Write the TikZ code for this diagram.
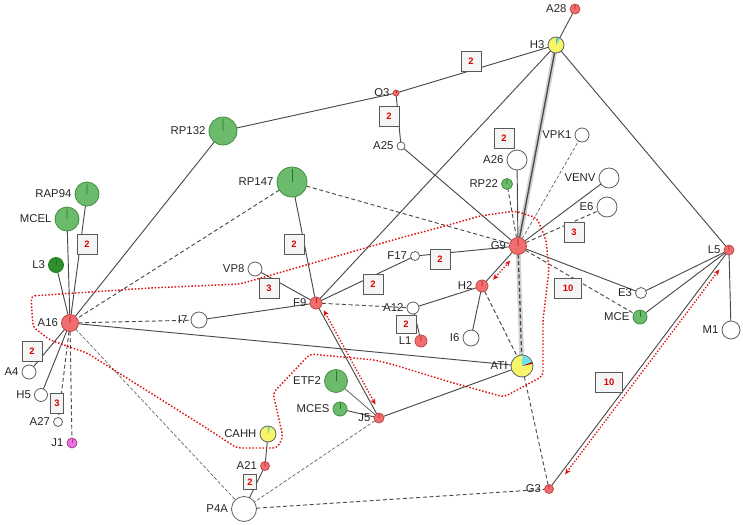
\documentclass[tikz,border=0pt]{standalone}
\usepackage{fontspec}
\setmainfont{Liberation Sans}
\usetikzlibrary{arrows.meta,calc}
\pgfdeclarelayer{back}
\pgfdeclarelayer{bg}
\pgfsetlayers{back,bg,main}
\definecolor{nred}{HTML}{F26D6D}
\definecolor{nredd}{HTML}{C04848}
\definecolor{ntick}{HTML}{A82020}
\definecolor{ngreen}{HTML}{6CBB6C}
\definecolor{ngreend}{HTML}{3F8F3F}
\definecolor{ngtick}{HTML}{1E7A1E}
\definecolor{ndkgreen}{HTML}{2F8F2F}
\definecolor{nyellow}{HTML}{F7F56A}
\definecolor{ncyan}{HTML}{6BE3E8}
\definecolor{nmag}{HTML}{F070F0}
\definecolor{edgec}{HTML}{4A4A4A}
\definecolor{loopred}{HTML}{E01010}
\begin{document}
\begin{tikzpicture}[x=0.75pt,y=-0.75pt,
  base/.style={circle,inner sep=0pt,outer sep=0pt,line width=0.6pt},
  rad/.style={minimum size=#1*1.5pt},
  wh/.style={base,draw=gray!75!black,fill=white},
  rd/.style={base,draw=nredd,fill=nred},
  gr/.style={base,draw=ngreend,fill=ngreen},
  dg/.style={base,draw=ngtick,fill=ndkgreen},
  mg/.style={base,draw=magenta!60!black,fill=nmag},
  ye/.style={base,draw=gray!75!black,fill=nyellow},
  every label/.style={font=\fontsize{8.5}{10}\selectfont,text=black!85,inner sep=0pt},
  label distance=2.5pt,
  sl/.style={draw=edgec,line width=0.7pt},
  dl/.style={draw=edgec,line width=0.7pt,dash pattern=on 3pt off 2pt},
  fdl/.style={draw=edgec!90,line width=0.5pt,dash pattern=on 2.5pt off 1.5pt},
  halo/.style={draw=gray!35,line width=3.6pt},
  nbox/.style={draw=gray!70!black,fill=gray!8,line width=0.5pt,minimum width=15pt,minimum height=15pt,inner sep=0pt,font=\bfseries\fontsize{7}{8}\selectfont,text=red!85!black},
  rtick/.style={ntick,line width=0.6pt},
  gtick/.style={ngtick,line width=0.7pt},
  rarrow/.style={loopred,line width=1pt,dash pattern=on 1pt off 1.3pt,{Stealth[length=4.5pt,width=3.8pt]}-{Stealth[length=4.5pt,width=3.8pt]}},
]
\begin{pgfonlayer}{back}
\fill[white] (0,0) rectangle (743,525);
\end{pgfonlayer}
\useasboundingbox (0,0) rectangle (743,525);

% nodes
\node[rd,rad=5,label=left:A28] (A28) at (575,9) {};
\node[ye,rad=8,label=left:H3] (H3) at (556,45) {};
\node[rd,rad=3,label=left:O3] (O3) at (396,93) {};
\node[wh,rad=4,label=left:A25] (A25) at (401,146) {};
\node[gr,rad=14,label=left:RP132] (RP132) at (223,131) {};
\node[gr,rad=15,label=left:RP147] (RP147) at (292,182) {};
\node[gr,rad=12,label=left:RAP94] (RAP94) at (87,194) {};
\node[gr,rad=12,label=left:MCEL] (MCEL) at (67,219) {};
\node[dg,rad=7.5,label=left:L3] (L3) at (56,265) {};
\node[rd,rad=8.5,label=left:A16] (A16) at (70,323) {};
\node[wh,rad=7,label=left:A4] (A4) at (29,372) {};
\node[wh,rad=6.5,label=left:H5] (H5) at (41,395) {};
\node[wh,rad=4.5,label=left:A27] (A27) at (58,422) {};
\node[mg,rad=5,label=left:J1] (J1) at (72,443) {};
\node[wh,rad=8,label=left:I7] (I7) at (199,320) {};
\node[wh,rad=7,label=left:VP8] (VP8) at (255,269) {};
\node[rd,rad=6,label=left:F9] (F9) at (316,303) {};
\node[wh,rad=4.5,label=left:F17] (F17) at (415,256) {};
\node[wh,rad=6,label=left:A12] (A12) at (413,308) {};
\node[rd,rad=6,label=left:L1] (L1) at (421,341) {};
\node[rd,rad=6,label=left:H2] (H2) at (482,286) {};
\node[wh,rad=8,label=left:I6] (I6) at (471,338) {};
\node[rd,rad=8.5,label=left:G9] (G9) at (518,246) {};
\node[wh,rad=10,label=left:A26] (A26) at (517,160) {};
\node[gr,rad=5.5,label=left:RP22] (RP22) at (507,184) {};
\node[wh,rad=7,label=left:VPK1] (VPK1) at (582,135) {};
\node[wh,rad=10,label=left:VENV] (VENV) at (609,178) {};
\node[wh,rad=10,label=left:E6] (E6) at (607,207) {};
\node[wh,rad=5.5,label=left:E3] (E3) at (641,293) {};
\node[gr,rad=7,label=left:MCE] (MCE) at (640,317) {};
\node[rd,rad=5,label=left:L5] (L5) at (729,250) {};
\node[wh,rad=9,label=left:M1] (M1) at (731,330) {};
\node[ye,rad=11,label=left:ATI] (ATI) at (522,366) {};
\node[rd,rad=5,label=left:J5] (J5) at (379,418) {};
\node[gr,rad=11.5,label=left:ETF2] (ETF2) at (336,381) {};
\node[gr,rad=7,label=left:MCES] (MCES) at (340,409) {};
\node[ye,rad=8,label=left:CAHH] (CAHH) at (268,434) {};
\node[rd,rad=4.5,label=left:A21] (A21) at (265,466) {};
\node[wh,rad=12.5,label=left:P4A] (P4A) at (244,509) {};
\node[rd,rad=4.5,label=left:G3] (G3) at (549,489) {};

% pie slices
\begin{scope}[shift={(H3.center)},x=1pt,y=1pt]
  \fill[ncyan] (0,0) -- (55:5.5) arc[start angle=55,end angle=75,radius=5.5] -- cycle;
  \fill[ngreen] (0,0) -- (75:5.5) arc[start angle=75,end angle=90,radius=5.5] -- cycle;
\end{scope}
\begin{scope}[shift={(ATI.center)},x=1pt,y=1pt]
  \fill[ncyan] (0,0) -- (22:7.8) arc[start angle=22,end angle=88,radius=7.8] -- cycle;
  \fill[red!75!black] (0,0) -- (12:7.8) arc[start angle=12,end angle=22,radius=7.8] -- cycle;
\end{scope}
\begin{scope}[shift={(CAHH.center)},x=1pt,y=1pt]
  \fill[ncyan] (0,0) -- (72:5.5) arc[start angle=72,end angle=85,radius=5.5] -- cycle;
  \fill[ngreen] (0,0) -- (85:5.5) arc[start angle=85,end angle=93,radius=5.5] -- cycle;
\end{scope}

% ticks
\foreach \n in {A28,O3,A16,F9,L1,H2,G9,L5,J5,A21,G3}
  \draw[rtick] (\n.center) -- ($(\n.center)!0.8!(\n.north)$);
\foreach \n in {RP132,RP147,RAP94,MCEL,L3,RP22,MCE,ETF2,MCES}
  \draw[gtick] (\n.center) -- ($(\n.center)!0.85!(\n.north)$);
\draw[magenta!60!black,line width=0.5pt] (J1.center) -- ($(J1.center)!0.8!(J1.north)$);

% edges
\begin{pgfonlayer}{bg}
  \draw[halo] (H3) -- (G9);
  \draw[halo] (G9) -- (ATI);
  \draw[sl,line width=1pt] (H3) -- (G9);
  \draw[dl,line width=1pt] (G9) -- (ATI);
  \draw[sl] (A28) -- (H3);
  \draw[sl] (H3) -- (O3);
  \draw[sl] (O3) -- (RP132);
  \draw[sl] (O3) -- (A25);
  \draw[sl] (A25) -- (G9);
  \draw[sl] (H3) -- (F9);
  \draw[sl] (H3) -- (L5);
  \draw[sl] (RP132) -- (A16);
  \draw[sl] (RP147) -- (F9);
  \draw[sl] (RAP94) -- (A16);
  \draw[sl] (MCEL) -- (A16);
  \draw[sl] (L3) -- (A16);
  \draw[sl] (A16) -- (A4);
  \draw[sl] (A16) -- (H5);
  \draw[sl] (A16) -- (ATI);
  \draw[sl] (I7) -- (F9);
  \draw[sl] (VP8) -- (F9);
  \draw[sl] (F9) -- (F17);
  \draw[sl] (F9) -- (J5);
  \draw[sl] (F17) -- (G9);
  \draw[sl] (A12) -- (H2);
  \draw[sl] (A12) -- (L1);
  \draw[sl] (H2) -- (G9);
  \draw[sl] (H2) -- (I6);
  \draw[sl] (G9) -- (A26);
  \draw[sl] (G9) -- (VENV);
  \draw[sl] (G9) -- (E3);
  \draw[sl] (E3) -- (L5);
  \draw[sl] (MCE) -- (L5);
  \draw[sl] (L5) -- (M1);
  \draw[sl] (L5) -- (G3);
  \draw[sl] (ATI) -- (J5);
  \draw[sl,line width=0.5pt] (J5) -- (ETF2);
  \draw[sl] (J5) -- (MCES);
  \draw[sl] (CAHH) -- (A21);
  \draw[sl] (A21) -- (P4A);
  \draw[dl] (RP147) -- (G9);
  \draw[dl] (RP147) -- (A16);
  \draw[dl] (A16) -- (A27);
  \draw[dl] (A16) -- (J1);
  \draw[dl] (A16) -- (I7);
  \draw[fdl] (A16) -- (P4A);
  \draw[dl] (F9) -- (A12);
  \draw[dl] (H2) -- (ATI);
  \draw[dl] (G9) -- (RP22);
  \draw[fdl] (G9) -- (VPK1);
  \draw[dl] (G9) -- (E6);
  \draw[dl] (G9) -- (MCE);
  \draw[dl] (ATI) -- (G3);
  \draw[fdl] (J5) -- (P4A);
  \draw[dl] (P4A) -- (G3);
\end{pgfonlayer}

% edge count boxes
\node[nbox] (b1) at (471,61) {2};
\node[nbox] (b2) at (389,116) {2};
\node[nbox] (b3) at (504,138) {2};
\node[nbox] (b4) at (87,244) {2};
\node[nbox] (b5) at (32,351) {2};
\node[nbox,minimum width=10pt] (b6) at (57,403) {3};
\node[nbox] (b7) at (294,244) {2};
\node[nbox] (b8) at (269,288) {3};
\node[nbox] (b9) at (373,284) {2};
\node[nbox] (b10) at (440,259) {2};
\node[nbox,minimum height=13.5pt] (b11) at (406,324) {2};
\node[nbox] (b12) at (574,232) {3};
\node[nbox,minimum width=20pt] (b13) at (568,288) {10};
\node[nbox,minimum width=20pt] (b14) at (609,382) {10};
\node[nbox,minimum width=10pt,minimum height=11pt] (b15) at (250,482) {2};

% red dotted region
\draw[loopred,line width=1.1pt,dash pattern=on 1.1pt off 1.4pt,rounded corners=3pt]
  (31,296) -- (150,288) -- (240,284) -- (400,238) -- (445,226) -- (480,216)
  -- (515,211) -- (537,218) -- (546,240) -- (549,270) -- (543,320) -- (543,376)
  -- (504,397) -- (450,382) -- (398,366) -- (375,360) -- (310,354) -- (273,393)
  -- (283,437) -- (277,448) -- (237,448) -- (200,424) -- (87,353) -- (50,340)
  -- (33,327) -- cycle;

% red dotted double arrows
\draw[rarrow] ($(F9)!7.5pt!(J5)!2.5pt!90:(J5)$) -- ($(J5)!10pt!(F9)!2.5pt!-90:(F9)$);
\draw[rarrow] ($(H2)!9pt!(G9)!3pt!-90:(G9)$) -- ($(G9)!12pt!(H2)!3pt!90:(H2)$);
\draw[rarrow] ($(L5)!16pt!(G3)!3pt!90:(G3)$) -- ($(G3)!16pt!(L5)!3pt!-90:(L5)$);
\end{tikzpicture}
\end{document}
